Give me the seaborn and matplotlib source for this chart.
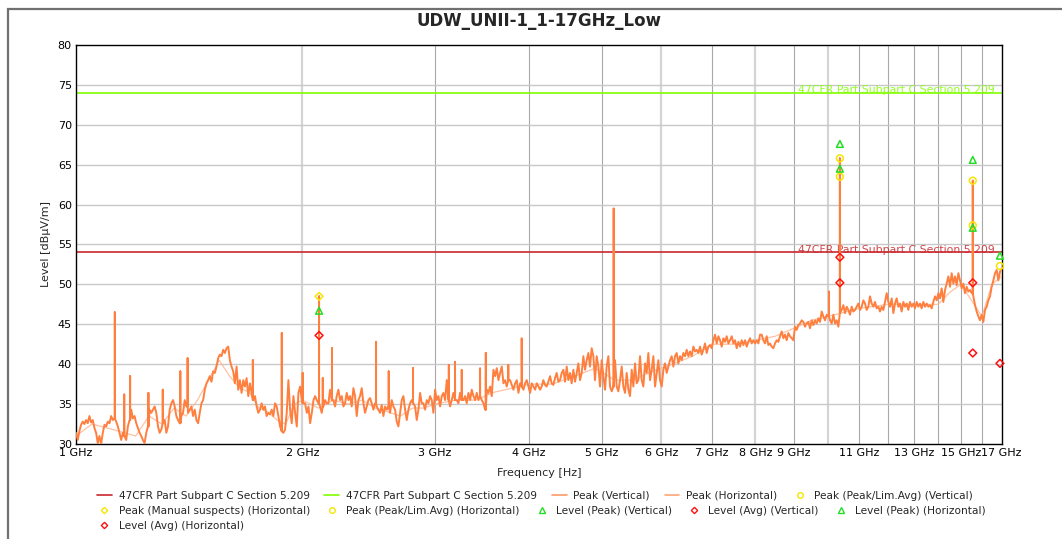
import matplotlib.pyplot as plt
import numpy as np
import pandas as pd
import seaborn as sns
from matplotlib.lines import Line2D
from matplotlib.patches import Rectangle
from matplotlib.ticker import FixedLocator, NullFormatter

title = "UDW_UNII-1_1-17GHz_Low"
limit_label = "47CFR Part Subpart C Section 5.209"
limit_avg = 54.0
limit_peak = 74.0

# peak (vertical) sweep in four frequency segments (GHz)
seg_a_range = (1.0, 2.079)
seg_a_level = [
    31.4, 30.5, 31.6, 32.4, 32.8, 32.5, 33.0, 32.6, 33.5, 32.7, 33.0, 32.0, 31.4, 30.1, 31.0, 30.0,
    31.4, 32.4, 32.2, 32.8, 32.6, 33.5, 33.0, 33.2, 32.8, 32.2, 31.4, 30.5, 31.4, 31.0, 30.5, 32.2,
    33.0, 34.3, 33.2, 33.5, 32.6, 32.0, 31.4, 31.0, 30.5, 30.1, 31.4, 32.2, 34.3, 33.9, 34.3, 34.7,
    33.9, 32.2, 31.4, 31.8, 32.6, 33.0, 31.4, 32.2, 34.3, 35.1, 35.5, 34.7, 33.5, 33.0, 32.6, 33.5,
    33.9, 35.5, 34.7, 33.9, 34.3, 34.7, 33.5, 34.3, 33.0, 32.6, 33.9, 35.1, 35.5, 36.8, 37.6, 38.0,
    38.5, 37.8, 39.1, 38.9, 39.7, 40.75, 41.2, 41.0, 41.8, 41.4, 42.0, 42.2, 40.5, 39.7, 39.1, 37.6,
    39.7, 36.8, 38.0, 36.4, 38.0, 37.2, 38.25, 36.0, 37.6, 36.4, 35.5, 36.0, 34.7, 33.9, 34.3, 35.1,
    34.3, 34.7, 33.5, 33.9, 33.7, 34.3, 33.5, 35.1, 34.7, 33.5, 32.2, 31.6, 31.4, 31.8, 33.9, 38.0,
    34.3, 32.6, 36.0, 33.9, 32.2, 36.4, 37.2, 35.5, 35.1, 35.1, 33.9, 34.7, 32.6, 33.9, 35.5, 36.0,
]
seg_b_range = (2.089, 4.139)
seg_b_level = [
    35.5, 35.1, 34.7, 33.9, 34.7, 35.5, 35.1, 35.1, 36.8, 35.5, 35.5, 34.7, 36.0, 36.8, 35.5, 36.0,
    34.7, 35.1, 36.4, 35.5, 36.0, 34.7, 37.0, 36.0, 33.5, 35.5, 36.0, 37.0, 35.1, 33.9, 34.7, 35.5,
    35.75, 35.1, 34.3, 35.1, 34.7, 34.3, 33.9, 34.9, 33.5, 34.7, 34.3, 34.7, 33.9, 35.5, 34.7, 34.3,
    32.8, 32.2, 33.9, 35.5, 36.0, 34.3, 33.0, 34.3, 35.1, 35.5, 35.1, 34.7, 33.0, 34.3, 36.4, 35.1,
    35.1, 34.3, 35.5, 35.1, 36.0, 35.5, 33.9, 36.8, 35.5, 36.0, 34.7, 36.0, 36.4, 35.5, 38.0, 35.5,
    34.7, 35.5, 36.4, 35.5, 35.5, 35.1, 36.4, 35.5, 35.5, 36.0, 35.1, 36.4, 35.5, 36.8, 36.0, 35.5,
    36.4, 35.5, 36.0, 35.5, 35.1, 34.3, 36.8, 36.4, 37.2, 36.0, 39.3, 38.5, 39.5, 38.0, 38.9, 39.7,
    37.6, 38.0, 37.2, 38.0, 38.0, 37.4, 36.8, 37.6, 38.0, 36.4, 37.6, 37.2, 36.8, 37.6, 38.0, 37.2,
    36.4, 37.6, 37.2, 36.8, 37.6, 37.2, 36.8,
]
seg_c_range = (4.159, 8.114)
seg_c_level = [
    37.2, 38.0, 37.4, 37.2, 37.8, 38.5, 37.6, 37.4, 38.25, 38.9, 37.8, 38.0, 38.9, 39.3, 37.8, 39.7,
    38.0, 38.9, 37.6, 39.3, 37.8, 38.9, 40.1, 38.0, 38.9, 41.0, 39.3, 40.5, 41.4, 39.7, 42.0, 41.0,
    38.0, 41.0, 39.7, 37.2, 40.5, 38.5, 36.8, 39.7, 41.0, 37.2, 36.6, 37.2, 40.5, 37.2, 36.6, 38.0,
    39.7, 37.2, 36.4, 38.9, 36.8, 36.0, 39.3, 37.2, 40.1, 37.6, 38.0, 41.0, 38.0, 37.2, 40.1, 38.9,
    41.4, 38.0, 39.3, 41.0, 37.2, 38.9, 40.5, 38.0, 37.2, 39.3, 40.1, 38.9, 39.7, 40.5, 41.0, 39.7,
    41.0, 41.4, 40.1, 41.0, 40.5, 41.4, 41.0, 41.8, 41.0, 41.6, 41.0, 42.2, 41.6, 41.8, 41.4, 42.2,
    41.2, 41.8, 42.6, 41.4, 42.2, 42.4, 42.0, 43.0, 43.7, 42.6, 43.5, 43.0, 42.2, 43.25, 42.8, 43.5,
    42.6, 43.0, 43.5, 42.6, 43.0, 42.0, 42.8, 42.2, 43.0, 42.4, 43.0, 42.2, 42.8, 43.25, 42.6, 43.0,
    42.6, 43.0, 42.6, 43.7,
]
seg_d_range = (8.155, 17.0)
seg_d_level = [
    43.7, 43.0, 42.6, 43.5, 42.4, 42.6, 42.2, 42.0, 42.6, 43.0, 42.8, 43.5, 44.1, 43.25, 43.7, 43.0,
    43.9, 43.5, 43.25, 43.0, 44.7, 44.3, 44.9, 45.1, 45.5, 45.3, 44.7, 45.1, 45.3, 44.5, 45.5, 44.9,
    45.5, 45.1, 45.75, 45.3, 46.6, 46.0, 45.5, 46.2, 46.0, 45.5, 45.1, 46.2, 45.1, 45.5, 44.7, 46.4,
    46.8, 47.4, 46.4, 47.2, 46.8, 46.2, 47.2, 46.6, 46.8, 47.2, 47.6, 46.8, 47.2, 48.0, 47.6, 46.8,
    47.2, 48.5, 47.6, 47.2, 47.8, 47.0, 47.2, 46.6, 47.2, 46.8, 47.8, 48.9, 47.8, 47.2, 48.25, 46.4,
    47.6, 48.25, 47.2, 47.6, 46.6, 47.8, 47.2, 47.6, 46.8, 47.8, 47.2, 47.6, 47.0, 47.8, 47.2, 47.6,
    47.0, 47.8, 47.2, 47.6, 47.2, 47.4, 47.0, 47.8, 48.5, 48.0, 48.9, 48.25, 49.5, 47.8, 49.3, 50.1,
    51.0, 49.7, 51.4, 50.1, 51.0, 49.9, 51.4, 50.5, 49.5, 50.1, 48.9, 49.7, 49.1, 49.3, 48.9, 48.5,
    47.4, 46.6, 46.0, 45.5, 46.2, 45.3, 46.8, 47.2, 48.0, 48.5, 49.7, 50.5, 51.4, 51.8, 50.5, 51.6,
    52.0,
]

# narrow spurs on the vertical sweep: frequency (GHz), floor, top (dBµV/m)
spike_freq = [1.126, 1.159, 1.180, 1.248, 1.304, 1.376, 1.407, 1.718, 1.877, 2.001, 2.104, 2.128,
              2.189, 2.505, 2.604, 2.805, 3.130, 3.190, 3.256, 3.444, 3.505, 3.755, 3.912, 5.184,
              10.02, 10.36, 15.56]
spike_base = [33.2, 31.0, 33.0, 32.2, 32.6, 32.6, 34.7, 35.5, 31.6, 35.1, 35.1, 34.7,
              35.5, 35.1, 34.7, 35.1, 35.5, 35.5, 35.5, 36.0, 34.3, 38.0, 37.2, 37.2,
              46.0, 46.4, 48.9]
spike_top = [46.5, 36.2, 38.5, 36.4, 36.8, 39.1, 40.75, 40.5, 43.9, 38.9, 48.5, 38.25,
             42.0, 42.8, 39.1, 39.5, 39.9, 40.3, 39.3, 39.5, 41.4, 39.9, 43.25, 59.5,
             49.1, 65.8, 63.0]

# peak (horizontal) sweep, coarser
horiz_freq = [1.0, 1.05, 1.1, 1.15, 1.2, 1.25, 1.3, 1.35, 1.4, 1.45, 1.5, 1.55, 1.6, 1.65, 1.7,
              1.75, 1.8, 1.85, 1.9, 1.95, 2.0, 2.1, 2.2, 2.3, 2.4, 2.5, 2.6, 2.7, 2.8, 2.9, 3.0,
              3.2, 3.4, 3.6, 3.8, 4.0, 4.3, 4.6, 4.9, 5.2, 5.5, 5.8, 6.2, 6.6, 7.0, 7.5, 8.0,
              8.5, 9.0, 9.5, 10.0, 10.5, 11.0, 12.0, 13.0, 14.0, 14.5, 15.0, 15.5, 16.0, 16.5, 17.0]
horiz_level = [31.0, 32.5, 32.0, 31.5, 31.0, 33.5, 32.5, 34.5, 33.5, 35.5, 38.0, 40.5, 38.5, 37.0,
               36.5, 34.5, 34.0, 33.0, 32.5, 35.0, 35.5, 34.5, 35.5, 35.0, 35.5, 34.5, 34.0, 33.5,
               34.5, 34.5, 35.0, 35.5, 35.5, 36.5, 37.0, 37.5, 37.5, 38.5, 39.5, 38.0, 38.0, 39.0,
               40.0, 41.0, 42.5, 42.5, 43.0, 43.5, 44.5, 45.5, 46.0, 46.5, 47.0, 47.5, 47.5, 47.5,
               49.0, 50.0, 48.0, 46.0, 50.0, 51.0]

# final measurement markers (GHz, dBµV/m)
peak_v_freq = [10.36, 15.56]
peak_v_level = [65.8, 63.0]
manual_h_freq = [2.104]
manual_h_level = [48.5]
peak_h_freq = [10.36, 15.56, 16.91]
peak_h_level = [63.5, 57.4, 52.3]
lvl_peak_v_freq = [10.36, 15.56]
lvl_peak_v_level = [67.6, 65.6]
lvl_avg_v_freq = [10.36, 15.56]
lvl_avg_v_level = [53.4, 50.2]
lvl_peak_h_freq = [2.104, 10.36, 15.56, 16.91]
lvl_peak_h_level = [46.7, 64.5, 57.1, 53.6]
lvl_avg_h_freq = [2.104, 10.36, 15.56, 16.91]
lvl_avg_h_level = [43.6, 50.2, 41.4, 40.1]

tick_ghz = [1, 2, 3, 4, 5, 6, 7, 8, 9, 11, 13, 15, 17]
tick_labels = [f"{t} GHz" for t in tick_ghz]

sns.set_theme(style="white")
plt.rcParams["font.family"] = ["DejaVu Sans"]

red = "#c8282d"
lime = "#80ff00"
orange = "#ff7f3f"
orange_light = "#ffb28c"
yellow = "#f5e600"
green = "#22dd22"
mred = "#ff1010"

sweep_freq = np.concatenate([
    np.geomspace(*seg_a_range, len(seg_a_level)),
    np.geomspace(*seg_b_range, len(seg_b_level)),
    np.geomspace(*seg_c_range, len(seg_c_level)),
    np.geomspace(*seg_d_range, len(seg_d_level)),
])
sweep_level = np.concatenate([seg_a_level, seg_b_level, seg_c_level, seg_d_level])
spur_freq = np.repeat(spike_freq, 3)
spur_level = np.column_stack([spike_base, spike_top, spike_base]).ravel()
trace = pd.DataFrame({
    "freq": np.concatenate([sweep_freq, spur_freq]),
    "level": np.concatenate([sweep_level, spur_level]),
}).sort_values("freq", kind="stable")
horiz = pd.DataFrame({"freq": horiz_freq, "level": horiz_level})

fig = plt.figure(figsize=(10.62, 5.39), dpi=100)
ax = fig.add_axes([0.0716, 0.1763, 0.8716, 0.7402])
ax.set_xscale("log")

# grid
for g in range(2, 17):
    light = g in (2, 6, 8, 10)
    ax.axvline(g, color="#d4d4d4" if light else "#a8a8a8", lw=1.6 if light else 0.8, zorder=0)
for yv in range(35, 80, 5):
    ax.axhline(yv, color="#c8c8c8", lw=1.0, zorder=0)

ax.axhline(limit_avg, color=red, lw=1.2, zorder=2)
ax.axhline(limit_peak, color=lime, lw=1.2, zorder=2)
ax.text(0.993, limit_peak - 0.3, limit_label, transform=ax.get_yaxis_transform(),
        ha="right", va="bottom", color=lime, fontsize=7.8, alpha=0.85)
ax.text(0.993, limit_avg - 0.3, limit_label, transform=ax.get_yaxis_transform(),
        ha="right", va="bottom", color=red, fontsize=7.8, alpha=0.85)

sns.lineplot(data=horiz, x="freq", y="level", color=orange_light, lw=0.9, alpha=0.8,
             estimator=None, sort=False, ax=ax, legend=False, zorder=3)
sns.lineplot(data=trace, x="freq", y="level", color=orange, lw=1.4,
             estimator=None, sort=False, ax=ax, legend=False, zorder=4)

marker_sets = [
    (peak_v_freq, peak_v_level, "o", yellow),
    (manual_h_freq, manual_h_level, "D", yellow),
    (peak_h_freq, peak_h_level, "o", yellow),
    (lvl_peak_v_freq, lvl_peak_v_level, "^", green),
    (lvl_avg_v_freq, lvl_avg_v_level, "D", mred),
    (lvl_peak_h_freq, lvl_peak_h_level, "^", green),
    (lvl_avg_h_freq, lvl_avg_h_level, "D", mred),
]
for fx, ly, mk, col in marker_sets:
    sns.scatterplot(x=fx, y=ly, marker=mk, facecolors="none", edgecolor=col,
                    s=24 if mk != "D" else 16, linewidth=1.1, ax=ax, legend=False,
                    zorder=5, clip_on=False)

ax.set_xlim(1, 17)
ax.set_ylim(30, 80)
ax.xaxis.set_major_locator(FixedLocator(tick_ghz))
ax.set_xticklabels(tick_labels)
minor_x = [m / 10 for m in range(11, 170) if m % 10 != 0 or (m // 10) not in tick_ghz]
ax.xaxis.set_minor_locator(FixedLocator(minor_x))
ax.xaxis.set_minor_formatter(NullFormatter())
ax.set_yticks(range(30, 81, 5))
ax.yaxis.set_minor_locator(FixedLocator(range(30, 81)))
ax.tick_params(which="both", direction="in", colors="black", labelsize=8, pad=3)
ax.tick_params(which="major", length=4, width=0.8)
ax.tick_params(which="minor", length=2.5, width=0.6)
for sp in ax.spines.values():
    sp.set_color("black")
    sp.set_linewidth(1.0)

ax.set_title(title, fontsize=12, fontweight="bold", pad=14)
ax.set_xlabel("Frequency [Hz]", fontsize=8, labelpad=7)
ax.set_ylabel("Level [dBµV/m]", fontsize=8, labelpad=5)


def line_h(col):
    return Line2D([], [], color=col, lw=1.2)


def mark_h(mk, col):
    return Line2D([], [], ls="none", marker=mk, mfc="none", mec=col, mew=1.0,
                  ms=4 if mk != "D" else 3.2)


rows = [
    [(line_h(red), limit_label), (line_h(lime), limit_label),
     (line_h("#ff9a66"), "Peak (Vertical)"), (line_h("#ffa678"), "Peak (Horizontal)"),
     (mark_h("o", yellow), "Peak (Peak/Lim.Avg) (Vertical)")],
    [(mark_h("D", yellow), "Peak (Manual suspects) (Horizontal)"),
     (mark_h("o", yellow), "Peak (Peak/Lim.Avg) (Horizontal)"),
     (mark_h("^", green), "Level (Peak) (Vertical)"),
     (mark_h("D", mred), "Level (Avg) (Vertical)"),
     (mark_h("^", green), "Level (Peak) (Horizontal)")],
    [(mark_h("D", mred), "Level (Avg) (Horizontal)")],
]
row_y = [0.0798, 0.052, 0.024]
for row, yy in zip(rows, row_y):
    fig.legend(handles=[h for h, _ in row], labels=[t for _, t in row],
               loc="center left", bbox_to_anchor=(0.0913, yy), ncol=len(row),
               frameon=False, fontsize=7.6, handlelength=1.4, handletextpad=0.65,
               columnspacing=1.4, borderpad=0, borderaxespad=0)

fig.patches.append(Rectangle((0.0075, -0.5), 2.0, 0.9833 + 0.5, transform=fig.transFigure,
                             fill=False, edgecolor="#707070", lw=1.6))

fig.savefig("out.png", dpi=100)
